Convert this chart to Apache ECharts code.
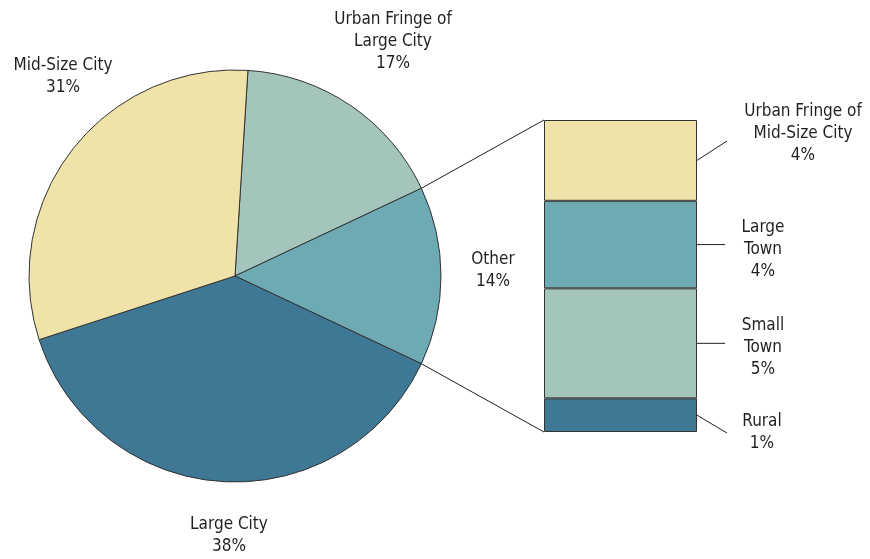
<!DOCTYPE html>
<html>
<head>
<meta charset="utf-8">
<script src="https://cdn.jsdelivr.net/npm/echarts@6/dist/echarts.min.js"></script>
<style>
  html, body { margin: 0; padding: 0; background: #fff; }
  #chart { width: 870px; height: 559px; }
</style>
</head>
<body>
<div id="chart"></div>
<script>
// pie slices, clockwise from the top
const pieNames = ['Urban Fringe of\nLarge City', 'Other', 'Large City', 'Mid-Size City']
const pieValues = [17, 14, 38, 31]
const pieColors = ['#a3c5bb', '#6eaab3', '#3e7895', '#f0e3a9']

// breakdown of "Other", bottom to top
const barNames = ['Rural', 'Small\nTown', 'Large\nTown', 'Urban Fringe of\nMid-Size City']
const barValues = [1.5, 4.9, 3.9, 3.6]
const barLabels = ['1%', '5%', '4%', '4%']
const barColors = ['#3e7895', '#a3c5bb', '#6eaab3', '#f0e3a9']

const FONT = '"Liberation Sans Narrow", "DejaVu Sans Condensed", "Liberation Sans", sans-serif'
const pieCenter = [235, 276]
const pieRadius = 206
const startAngle = 86.4
const grid = { left: 544, top: 120, width: 153, height: 312 }

// where the labels sit (text centre)
const pieLabelPos = [[393, 42], [493, 271], [229, 536], [63, 77]]
const barLabelPos = [[762, 433], [763, 348], [763, 250], [803, 134]]
const leaderEnd = [[727, 433], [725, null], [725, null], [727, 141]]

const total = barValues.reduce((a, b) => a + b, 0)
const pieTotal = pieValues.reduce((a, b) => a + b, 0)

const chart = echarts.init(document.getElementById('chart'))

const textStyle = {
  color: '#231f20',
  fontFamily: FONT,
  fontSize: 17,
  lineHeight: 22,
  align: 'center',
  overflow: 'none'
}

const option = {
  backgroundColor: '#fff',
  animation: false,
  grid: { left: grid.left, top: grid.top, width: grid.width, height: grid.height },
  xAxis: { type: 'category', data: ['Other'], show: false },
  yAxis: { type: 'value', min: 0, max: total, show: false },
  series: [
    {
      type: 'pie',
      center: pieCenter,
      radius: pieRadius,
      startAngle: startAngle,
      clockwise: true,
      label: Object.assign({
        show: true,
        position: 'outside',
        width: 200,
        formatter: p => p.name + '\n' + p.value + '%'
      }, textStyle),
      labelLine: { show: false },
      labelLayout: p => ({
        x: pieLabelPos[p.dataIndex][0],
        y: pieLabelPos[p.dataIndex][1],
        align: 'center',
        verticalAlign: 'middle'
      }),
      itemStyle: { borderColor: '#333', borderWidth: 1 },
      emphasis: { disabled: true },
      data: pieNames.map((n, i) => ({
        name: n,
        value: pieValues[i],
        itemStyle: { color: pieColors[i] }
      }))
    }
  ].concat(barNames.map((n, i) => ({
    type: 'bar',
    name: n,
    stack: 'other',
    barWidth: '100%',
    itemStyle: { color: barColors[i], borderColor: '#333', borderWidth: 1 },
    label: Object.assign({
      show: true,
      position: 'right',
      formatter: () => n + '\n' + barLabels[i]
    }, textStyle),
    labelLayout: () => ({
      x: barLabelPos[i][0],
      y: barLabelPos[i][1],
      align: 'center',
      verticalAlign: 'middle'
    }),
    emphasis: { disabled: true },
    data: [barValues[i]]
  })))
}

chart.setOption(option)

// connector lines from the "Other" slice to the bar, and label leaders
const toRad = d => d * Math.PI / 180
const a1 = startAngle - pieValues[0] / pieTotal * 360
const a2 = a1 - pieValues[1] / pieTotal * 360
const piePt = a => [pieCenter[0] + pieRadius * Math.cos(toRad(a)), pieCenter[1] - pieRadius * Math.sin(toRad(a))]
const yPx = v => chart.convertToPixel({ yAxisIndex: 0 }, v)

const lineStyle = { stroke: '#231f20', lineWidth: 1 }
const graphic = [
  { type: 'line', shape: { x1: piePt(a1)[0], y1: piePt(a1)[1], x2: grid.left, y2: yPx(total) }, style: lineStyle, silent: true },
  { type: 'line', shape: { x1: piePt(a2)[0], y1: piePt(a2)[1], x2: grid.left, y2: yPx(0) }, style: lineStyle, silent: true }
]
let cum = 0
barValues.forEach((v, i) => {
  const midY = yPx(cum + v / 2)
  cum += v
  const end = leaderEnd[i]
  graphic.push({
    type: 'line',
    shape: { x1: grid.left + grid.width, y1: midY, x2: end[0], y2: end[1] == null ? midY : end[1] },
    style: lineStyle,
    silent: true
  })
})
chart.setOption({ graphic: graphic })
</script>
</body>
</html>
